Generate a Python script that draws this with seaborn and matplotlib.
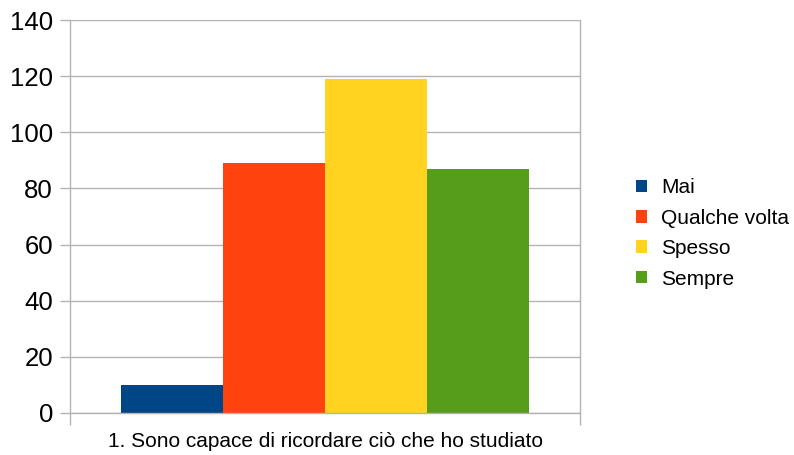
import pandas as pd
import matplotlib.pyplot as plt
import seaborn as sns

# data
question = ["1. Sono capace di ricordare ciò che ho studiato"]
answers = ["Mai", "Qualche volta", "Spesso", "Sempre"]
counts = [10, 89, 119, 87]
colors = ["#004586", "#ff420e", "#ffd320", "#579d1c"]

df = pd.DataFrame({
    "domanda": question * len(answers),
    "risposta": answers,
    "conteggio": counts,
})

sns.set_style("white")
plt.rcParams["font.family"] = ["Liberation Sans", "DejaVu Sans"]
plt.rcParams["text.color"] = "black"
plt.rcParams["xtick.labelcolor"] = "black"
plt.rcParams["ytick.labelcolor"] = "black"

fig = plt.figure(figsize=(7.94, 4.55), dpi=100)
ax = fig.add_axes([70 / 794, 42 / 455, 510 / 794, 393 / 455])

sns.barplot(data=df, x="domanda", y="conteggio", hue="risposta",
            hue_order=answers, palette=colors, width=0.8, saturation=1,
            linewidth=0, ax=ax)

grid_col = "#b3b3b3"
ax.set_ylim(0, 140)
ax.set_xlim(-0.5, 0.5)
ax.set_yticks(range(0, 141, 20))
ax.yaxis.grid(True, color=grid_col, linewidth=1)
ax.set_axisbelow(True)
ax.tick_params(axis="y", length=7.2, width=1, color=grid_col, labelsize=18.5,
               pad=5, left=True)

# category boundaries as ticks, the label centred below
ax.set_xticks([-0.5, 0.5])
ax.set_xticklabels(["", ""])
ax.set_xticks([0], minor=True)
ax.set_xticklabels(question, minor=True)
ax.tick_params(axis="x", which="major", length=8.6, width=1, color=grid_col,
               bottom=True)
ax.tick_params(axis="x", which="minor", length=0, labelsize=15, pad=13.5)

ax.set_xlabel("")
ax.set_ylabel("")
for side in ["left", "right", "bottom"]:
    ax.spines[side].set_visible(True)
    ax.spines[side].set_color(grid_col)
    ax.spines[side].set_linewidth(1)
ax.spines["top"].set_visible(False)

leg = ax.legend(loc="center left", bbox_to_anchor=(1.073, 0.457), frameon=False,
                fontsize=15, handlelength=0.55, handleheight=0.55,
                handletextpad=0.67, labelspacing=0.55)

fig.savefig("out.png", dpi=100)
